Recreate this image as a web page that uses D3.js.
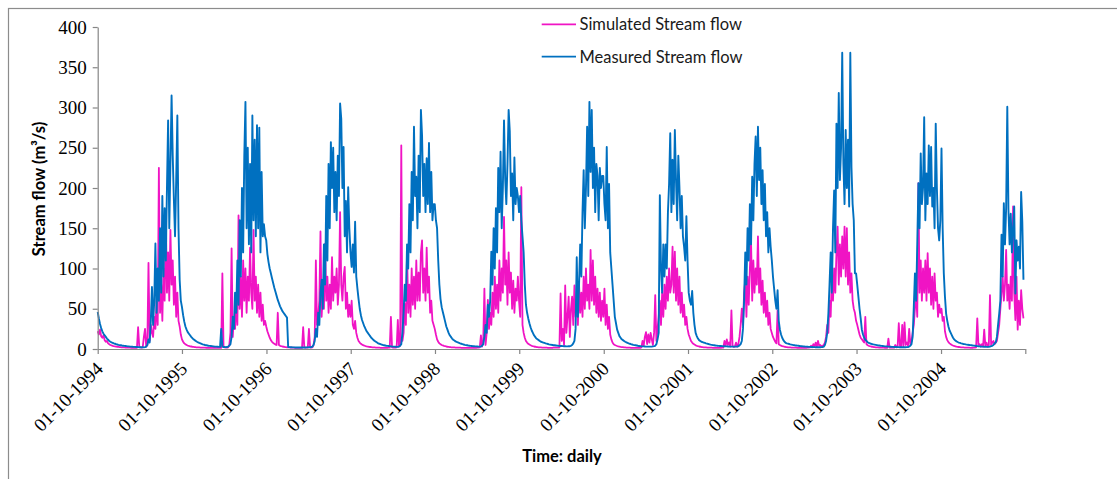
<!DOCTYPE html>
<html>
<head>
<meta charset="utf-8">
<script src="https://cdn.jsdelivr.net/npm/d3@7"></script>
<style>
  body { margin: 0; background: #fff; }
  svg { display: block; }
</style>
</head>
<body>
<svg width="1117" height="479"></svg>
<script>
// ---------------- data (one value every 5 days) ----------------
const startDate = "01-10-1994";
const stepDays = 5;
const axisEnd = "01-10-2005";
const tickLabels = ["01-10-1994", "01-10-1995", "01-10-1996", "01-10-1997", "01-10-1998", "01-10-1999",
                    "01-10-2000", "01-10-2001", "01-10-2002", "01-10-2003", "01-10-2004"];
const yTicks = [0, 50, 100, 150, 200, 250, 300, 350, 400];
const seriesNames = ["Simulated Stream flow", "Measured Stream flow"];

// Measured stream flow (m3/s), 73 values per water year (Oct - Sep)
const measuredFlow = [
  // 1994-95
  46, 38, 31, 26, 22, 19, 17, 15, 13, 11.5, 10, 9,
  8.2, 7.6, 7, 6.5, 6, 5.6, 5.2, 4.9, 4.6, 4.3, 4.1, 3.9,
  3.7, 3.5, 3.3, 3.2, 3.0, 2.9, 2.8, 2.7, 2.6, 2.5, 2.4, 2.3,
  2.2, 2.2, 2.1, 2.1, 2.0, 2.3, 3, 5, 12, 8, 35, 77,
  30, 60, 131, 45, 100, 60, 150, 70, 190, 90, 175, 110,
  200, 284, 150, 230, 315, 240, 185, 140, 210, 290, 150, 86, 60,
  // 1995-96
  52, 42, 34, 28, 24, 21, 19, 17, 15, 13.5, 12, 11,
  10, 9, 8.2, 7.5, 6.9, 6.3, 5.8, 5.4, 5, 4.7, 4.4, 4.1,
  3.9, 3.7, 3.5, 3.3, 3.1, 3.0, 2.9, 2.8, 2.7, 2.6, 25, 3,
  2.5, 2.4, 2.3, 2.4, 3, 4, 6, 15, 40, 25, 70, 45,
  110, 55, 160, 90, 200, 120, 240, 307, 150, 250, 130, 230,
  120, 290, 160, 260, 140, 278, 150, 275, 120, 220, 140, 155, 140,
  // 1996-97
  135, 118, 108, 100, 94, 88, 82, 76, 71, 66, 61, 57,
  53, 50, 47, 45, 43, 41, 39, 2.5, 2.3, 2.2, 2.1, 2.0,
  2.0, 1.9, 1.9, 1.8, 1.8, 1.8, 1.8, 1.8, 1.8, 1.8, 1.9, 2.0,
  2.0, 2.1, 2.2, 2.5, 3, 5, 10, 25, 15, 45, 30, 70,
  86, 50, 130, 80, 190, 110, 230, 150, 257, 200, 250, 170,
  220, 160, 240, 190, 305, 286, 200, 251, 140, 184, 120, 201, 150,
  // 1997-98
  120, 102, 130, 95, 158, 90, 75, 62, 50, 42, 36, 32,
  28, 25, 22, 20, 18, 16, 14, 12.5, 11, 10, 9, 8,
  7, 6.5, 6, 5.5, 5, 4.7, 4.4, 4.1, 3.9, 3.7, 3.5, 3.3,
  3.1, 3.0, 2.9, 2.8, 2.7, 2.7, 3, 4, 6, 20, 45, 80,
  60, 130, 100, 180, 120, 220, 160, 276, 190, 214, 150, 240,
  170, 297, 265, 190, 230, 170, 237, 180, 256, 170, 220, 160, 180,
  // 1998-99
  180, 160, 150, 110, 80, 62, 52, 46, 40, 34, 28, 24,
  20, 17, 15, 13, 11.5, 10.5, 9.5, 8.8, 8.2, 7.6, 7, 6.5,
  6, 5.6, 5.2, 4.9, 4.6, 4.3, 4.1, 3.9, 3.7, 3.5, 3.4, 3.3,
  3.2, 3.1, 3.0, 3.0, 3.0, 4, 6, 15, 30, 20, 55, 40,
  60, 121, 80, 150, 100, 175, 120, 225, 170, 245, 150, 200,
  284, 212, 180, 230, 297, 270, 190, 218, 160, 238, 180, 200, 190,
  // 1999-00
  170, 190, 160, 140, 120, 80, 55, 45, 38, 32, 27, 23,
  20, 17, 15, 13, 12, 11, 10, 9, 8.5, 8, 7.5, 7,
  6.6, 6.2, 5.8, 5.5, 5.2, 5, 4.8, 4.6, 4.4, 4.2, 4, 3.9,
  3.8, 3.7, 3.6, 3.5, 3.4, 3.3, 3.3, 3.4, 3.5, 4, 5, 7,
  10, 25, 114, 40, 80, 130, 90, 170, 222, 150, 200, 276,
  190, 307, 220, 297, 200, 250, 170, 230, 215, 160, 225, 200, 215,
  // 2000-01
  215, 180, 160, 251, 150, 205, 120, 100, 80, 60, 40, 32,
  24, 20, 16, 14, 12, 11, 10, 9, 8.3, 7.6, 7, 6.5,
  6, 5.6, 5.2, 4.9, 4.6, 4.3, 4, 3.8, 3.6, 3.4, 3.3, 3.2,
  3.1, 3.0, 3.0, 2.9, 2.9, 2.9, 3.0, 3.2, 3.5, 4, 6, 12,
  20, 191, 100, 70, 130, 90, 130, 100, 170, 205, 268, 170,
  235, 180, 272, 210, 160, 240, 200, 150, 190, 140, 127, 110, 165,
  // 2001-02
  110, 70, 60, 55, 72, 45, 30, 20, 16, 13, 11, 10,
  9, 8.5, 8, 7.5, 7, 6.6, 6.2, 5.8, 5.4, 5.1, 4.8, 4.6,
  4.4, 4.2, 4, 3.9, 3.8, 3.7, 3.6, 3.5, 3.4, 3.3, 3.2, 3.1,
  3.0, 3.0, 2.9, 2.9, 2.9, 2.9, 3.0, 3.1, 3.4, 4.5, 6, 10,
  25, 60, 120, 80, 150, 110, 180, 130, 214, 160, 230, 264,
  190, 276, 210, 250, 180, 222, 160, 205, 140, 170, 120, 150, 127,
  // 2002-03
  110, 90, 75, 60, 50, 73, 35, 24, 18, 14, 11, 9,
  7.5, 7, 6.6, 6.2, 5.8, 5.5, 5.2, 4.9, 4.6, 4.4, 4.2, 4,
  3.8, 3.6, 3.4, 3.2, 3.1, 3.0, 2.9, 2.8, 2.7, 2.6, 2.5, 2.4,
  2.3, 2.3, 2.2, 2.2, 2.1, 2.1, 2.2, 2.3, 2.5, 3, 5, 10,
  20, 44, 80, 120, 70, 150, 197, 120, 280, 200, 318, 210,
  250, 368, 230, 180, 272, 200, 260, 177, 368, 226, 180, 160, 94,
  // 2003-04
  94, 80, 65, 50, 38, 24, 18, 14, 11.5, 10, 8.5, 7.5,
  7, 6.5, 6.1, 5.7, 5.4, 5.1, 4.8, 4.5, 4.3, 4.1, 3.9, 3.7,
  3.5, 3.3, 3.2, 3.1, 3.0, 2.9, 2.8, 2.7, 2.6, 2.5, 2.5, 2.4,
  2.3, 2.3, 2.2, 2.2, 2.1, 2.1, 2.1, 2.2, 2.3, 2.5, 3, 4,
  6, 15, 52, 94, 60, 130, 206, 150, 243, 180, 200, 288,
  160, 218, 180, 253, 190, 251, 177, 200, 150, 280, 200, 150, 135,
  // 2004-05
  160, 249, 150, 94, 65, 44, 35, 28, 23, 20, 17, 14,
  12, 10.5, 9.5, 8.7, 8, 7.5, 7, 6.6, 6.2, 6, 5.7, 5.5,
  5.2, 5, 4.8, 4.6, 4.4, 4.2, 4, 3.8, 3.6, 3.4, 3.3, 3.1,
  3, 2.9, 2.8, 2.8, 2.7, 2.7, 2.8, 3, 3.5, 4, 5, 7,
  8, 15, 30, 44, 60, 142, 90, 181, 130, 175, 301, 173,
  130, 168, 120, 150, 177, 69, 135, 110, 127, 100, 195, 158, 86
];

// Simulated stream flow (m3/s), same dates
const simulatedFlow = [
  // 1994-95
  22, 18, 24, 16, 14, 17, 11, 9, 10, 7, 6, 5,
  4.5, 4, 3.6, 3.3, 3, 2.8, 2.6, 2.4, 2.2, 2.1, 2, 1.9,
  1.8, 1.7, 1.7, 1.6, 1.6, 1.5, 1.5, 1.5, 1.5, 1.5, 1.5, 27,
  3, 2, 1.8, 2, 15, 25, 3, 5, 107, 10, 30, 20,
  15, 40, 25, 60, 30, 225, 45, 80, 35, 100, 60, 172,
  70, 120, 60, 148, 80, 110, 55, 90, 40, 70, 35, 28, 18,
  // 1995-96
  12, 9, 7, 6, 5, 4.3, 3.8, 3.4, 3.1, 2.8, 2.6, 2.4,
  2.2, 2.1, 2.0, 1.9, 1.8, 1.7, 1.7, 1.6, 1.6, 1.5, 1.5, 1.5,
  1.5, 1.4, 1.4, 1.4, 1.4, 1.4, 1.4, 1.4, 1.4, 1.5, 1.5, 94,
  3, 2, 1.8, 1.7, 2, 5, 20, 125, 15, 40, 25, 60,
  30, 166, 50, 90, 40, 110, 60, 100, 45, 90, 60, 126,
  70, 50, 148, 60, 90, 45, 80, 40, 70, 35, 55, 30, 35,
  // 1996-97
  28, 22, 18, 14, 11, 9, 7.5, 6.5, 5.5, 5, 45, 5,
  4, 3.5, 3.1, 2.8, 2.5, 2.3, 2.1, 2.0, 1.9, 1.8, 1.7, 1.6,
  1.6, 1.5, 1.5, 1.5, 1.4, 1.4, 1.4, 1.4, 27, 2, 1.6, 1.6,
  1.6, 25, 2, 1.8, 2, 5, 15, 110, 30, 40, 60, 146,
  40, 70, 50, 131, 60, 90, 45, 80, 50, 114, 60, 90,
  70, 100, 55, 80, 170, 80, 60, 90, 102, 50, 70, 40, 55,
  // 1997-98
  40, 60, 30, 25, 35, 20, 14, 10, 8, 6.5, 5.5, 4.8,
  4.2, 3.7, 3.3, 3, 2.7, 2.5, 2.3, 2.1, 2.0, 1.9, 1.8, 1.7,
  1.6, 1.6, 1.5, 1.5, 1.5, 1.5, 1.5, 1.5, 1.5, 1.6, 1.6, 40,
  2, 1.7, 1.7, 1.8, 2, 36, 3, 4, 253, 10, 20, 56,
  30, 123, 45, 80, 40, 100, 55, 90, 50, 110, 60, 95,
  60, 120, 135, 70, 100, 60, 126, 70, 90, 45, 60, 35, 30,
  // 1998-99
  25, 18, 12, 9, 7, 6, 5, 4.4, 3.9, 3.5, 3.1, 2.8,
  2.6, 2.4, 2.2, 2.1, 2.0, 1.9, 1.8, 1.7, 1.7, 1.6, 1.6, 1.5,
  1.5, 1.5, 1.5, 1.4, 1.4, 1.4, 1.4, 1.4, 1.4, 1.5, 1.5, 1.5,
  1.5, 1.6, 1.8, 2, 17, 3, 10, 75, 5, 20, 61, 25,
  45, 30, 70, 40, 90, 50, 80, 45, 110, 60, 100, 70,
  164, 80, 110, 55, 120, 70, 95, 50, 85, 45, 75, 60, 90,
  // 1999-00
  60, 40, 201, 30, 20, 14, 10, 8, 6.5, 5.5, 4.7, 4,
  3.5, 3.1, 2.8, 2.5, 2.3, 2.1, 2.0, 1.9, 1.8, 1.7, 1.7, 1.6,
  1.6, 1.5, 1.5, 1.5, 1.5, 1.5, 2, 1.6, 1.6, 1.6, 1.6, 1.8,
  69, 10, 25, 5, 79, 20, 40, 65, 15, 50, 65, 30,
  79, 40, 60, 30, 80, 45, 70, 40, 90, 50, 100, 60,
  80, 50, 123, 60, 110, 55, 90, 45, 75, 40, 70, 35, 60,
  // 2000-01
  40, 75, 30, 55, 25, 40, 18, 12, 8, 6, 5, 4.3,
  3.7, 3.2, 2.9, 2.6, 2.4, 2.2, 2.0, 1.9, 1.8, 1.7, 1.6, 1.6,
  1.5, 1.5, 1.5, 1.5, 1.5, 1.5, 1.5, 1.5, 1.5, 2, 10, 4,
  15, 21, 6, 18, 8, 20, 12, 5, 20, 67, 10, 25,
  40, 60, 30, 70, 40, 80, 50, 90, 60, 100, 70, 80,
  127, 70, 121, 60, 100, 55, 90, 45, 70, 40, 55, 30, 40,
  // 2001-02
  25, 18, 14, 10, 8, 6.5, 5.5, 4.6, 4, 3.5, 3.1, 2.8,
  2.5, 2.3, 2.1, 2.0, 1.9, 1.8, 1.7, 1.7, 1.6, 1.6, 1.5, 1.5,
  1.5, 1.5, 1.5, 1.5, 1.5, 1.5, 1.6, 1.8, 10, 4, 12, 5,
  8, 3, 48, 4, 2.5, 3, 8, 3, 6, 15, 30, 50,
  30, 70, 86, 40, 90, 55, 100, 135, 60, 110, 70, 100,
  80, 140, 70, 100, 55, 85, 45, 70, 40, 60, 30, 45, 25,
  // 2002-03
  20, 15, 12, 9, 7, 48, 6, 5, 4.2, 3.6, 3.2, 2.8,
  2.5, 2.3, 2.1, 2.0, 1.9, 1.8, 1.7, 1.7, 1.6, 1.6, 1.5, 1.5,
  1.5, 1.5, 1.5, 1.5, 1.5, 1.5, 1.5, 1.6, 1.7, 2, 4, 2,
  6, 3, 8, 3, 10, 4, 5, 3, 4, 5, 8, 15,
  30, 20, 60, 40, 90, 60, 100, 70, 120, 152, 80, 130,
  90, 140, 100, 152, 90, 150, 80, 120, 70, 94, 60, 50, 45,
  // 2003-04
  35, 30, 24, 18, 14, 12, 10, 8, 40, 6, 4.7, 4,
  3.5, 3.1, 2.8, 2.5, 2.3, 2.1, 2.0, 1.9, 1.8, 1.7, 1.6, 1.6,
  1.6, 1.5, 1.5, 1.5, 13, 1.6, 1.6, 1.6, 1.7, 1.8, 5, 2,
  3, 32, 4, 2.5, 30, 3, 33, 5, 8, 4, 25, 6,
  10, 20, 30, 50, 70, 40, 206, 70, 110, 60, 100, 70,
  110, 60, 119, 70, 100, 55, 90, 50, 94, 60, 70, 40, 55,
  // 2004-05
  45, 50, 35, 40, 22, 15, 11, 8.5, 7, 6, 5, 4.3,
  3.8, 3.4, 3.0, 2.7, 2.5, 2.3, 2.1, 2.0, 1.9, 1.8, 1.7, 1.6,
  1.6, 1.6, 1.5, 1.5, 1.5, 1.6, 1.7, 2, 38, 5, 6, 3,
  6, 3, 24, 4, 8, 3, 5, 67, 5, 8, 10, 6,
  8, 10, 20, 30, 50, 70, 90, 60, 80, 123, 60, 80,
  50, 90, 60, 177, 70, 36, 90, 24, 60, 30, 73, 50, 38
];

// ---------------- chart ----------------
const svg = d3.select("svg");
const parse = d3.timeParse("%d-%m-%Y");
const t0 = parse(startDate);
const dates = measuredFlow.map((d, i) => d3.timeDay.offset(t0, i * stepDays));

const x = d3.scaleTime()
    .domain([t0, parse(axisEnd)])
    .range([97.7, 1025.3]);

const y = d3.scaleLinear()
    .domain([0, 400])
    .range([349, 27]);

// chart frame (cut off on the right and bottom in the picture)
svg.append("rect")
    .attr("x", 8.5).attr("y", 8.5)
    .attr("width", 1300).attr("height", 700)
    .attr("fill", "none")
    .attr("stroke", "#8c8c8c")
    .attr("stroke-width", 1.2);

// lines
const line = d3.line()
    .x((d, i) => x(dates[i]))
    .y(d => y(d));

svg.append("path")
    .datum(simulatedFlow)
    .attr("fill", "none")
    .attr("stroke", "#f014c4")
    .attr("stroke-width", 1.8)
    .attr("stroke-linejoin", "round")
    .attr("d", line);

svg.append("path")
    .datum(measuredFlow)
    .attr("fill", "none")
    .attr("stroke", "#0070c0")
    .attr("stroke-width", 1.9)
    .attr("stroke-linejoin", "round")
    .attr("d", line);

// y axis
const yAxis = svg.append("g")
    .attr("transform", "translate(97.7,0)")
    .call(d3.axisLeft(y).tickValues(yTicks).tickSize(5).tickSizeOuter(0).tickPadding(6));

// x axis
const xTickDates = tickLabels.map(parse).concat([parse(axisEnd)]);
const xAxis = svg.append("g")
    .attr("transform", "translate(0,349)")
    .call(d3.axisBottom(x)
        .tickValues(xTickDates)
        .tickSize(5)
        .tickSizeOuter(0)
        .tickFormat((d, i) => i < tickLabels.length ? tickLabels[i] : ""));

[yAxis, xAxis].forEach(g => {
    g.select(".domain").attr("stroke", "#868686").attr("stroke-width", 1.2);
    g.selectAll(".tick line").attr("stroke", "#868686").attr("stroke-width", 1.2);
    g.selectAll("text")
        .attr("fill", "#000")
        .style("font-family", "'Liberation Serif', 'Times New Roman', serif")
        .style("font-size", "19px");
});

xAxis.selectAll("text")
    .attr("x", 0).attr("y", 0).attr("dy", 0)
    .attr("text-anchor", "end")
    .attr("transform", "translate(6,21) rotate(-45)");

// axis titles
svg.append("text")
    .attr("transform", "translate(45,189) rotate(-90)")
    .attr("text-anchor", "middle")
    .style("font-family", "Lato, 'Open Sans', sans-serif")
    .style("font-weight", "bold")
    .style("font-size", "16.5px")
    .text("Stream flow (m³/s)");

svg.append("text")
    .attr("x", 562).attr("y", 462)
    .attr("text-anchor", "middle")
    .style("font-family", "Lato, 'Open Sans', sans-serif")
    .style("font-weight", "bold")
    .style("font-size", "16.5px")
    .text("Time: daily");

// legend
const legendColors = ["#f014c4", "#0070c0"];
const legendY = [24.3, 56.7];
seriesNames.forEach((name, i) => {
    svg.append("line")
        .attr("x1", 541.7).attr("x2", 576)
        .attr("y1", legendY[i]).attr("y2", legendY[i])
        .attr("stroke", legendColors[i])
        .attr("stroke-width", 1.8);
    svg.append("text")
        .attr("x", 579.5).attr("y", legendY[i] + 6)
        .style("font-family", "Lato, 'Open Sans', sans-serif")
        .style("font-size", "16.5px")
        .attr("fill", "#1a1a1a")
        .text(name);
});
</script>
</body>
</html>
